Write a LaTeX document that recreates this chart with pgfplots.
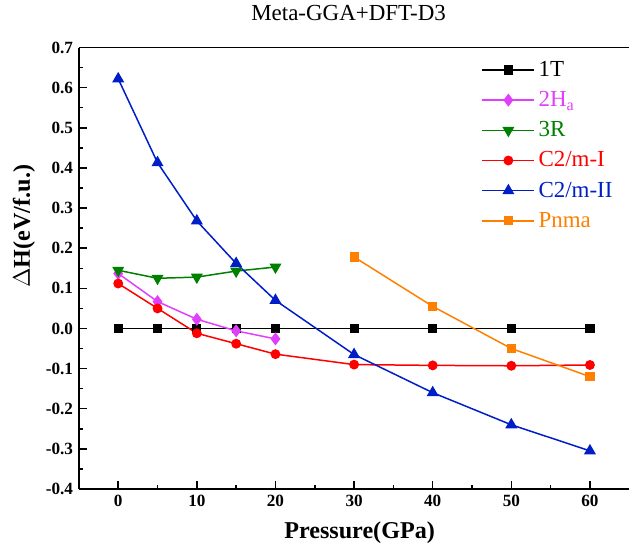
\documentclass[border=0pt]{standalone}
\usepackage{pgfplots}
\pgfplotsset{compat=1.18}
\usepackage{fontspec}
\setmainfont{Liberation Serif}
\definecolor{cT}{RGB}{0,0,0}
\definecolor{cH}{RGB}{224,64,251}
\definecolor{cR}{RGB}{0,128,0}
\definecolor{cI}{RGB}{255,0,0}
\definecolor{cII}{RGB}{0,30,200}
\definecolor{cP}{RGB}{255,128,0}
\begin{document}
\begin{tikzpicture}
\path (-47.4pt,-37.2pt) rectangle (330.6pt,293.4pt);
\begin{axis}[
  scale only axis,
  width=330.6pt, height=265.2pt,
  xmin=-5, xmax=65, ymin=-0.4, ymax=0.7,
  axis x line*=bottom, axis y line*=left,
  axis line style={line width=0.9pt, -},
  xtick={0,10,...,60}, ytick={-0.4,-0.3,...,0.7},
  minor x tick num=1, minor y tick num=1,
  tick align=inside,
  major tick length=4.8pt, minor tick length=2.4pt,
  tick style={line width=0.9pt, black},
  /pgf/number format/assume math mode=true,
  ticklabel style={font=\fontsize{10.3}{12}\selectfont\bfseries},
  yticklabel style={/pgf/number format/.cd, fixed, fixed zerofill, precision=1},
  xlabel={Pressure(GPa)},
  ylabel={$\Delta$H(eV/f.u.)},
  xlabel style={font=\fontsize{14.5}{16}\selectfont\bfseries, at={(axis description cs:0.51,-0.098)}, anchor=center},
  ylabel style={font=\fontsize{14.5}{16}\selectfont\bfseries, at={(axis description cs:-0.1,0.595)}, anchor=center},
  title={Meta-GGA+DFT-D3},
  title style={font=\fontsize{13.8}{15}\selectfont, at={(axis description cs:0.49,1.055)}, anchor=center, yshift=0pt},
  legend style={draw=none, fill=none, at={(axis description cs:0.722,0.985)}, anchor=north west,
    font=\fontsize{13.8}{16}\selectfont, row sep=3.5pt, legend cell align=left,
    nodes={inner xsep=2pt}},
  every axis plot/.append style={line width=0.9pt},
  legend image code/.code={\draw[mark repeat=2,mark phase=2] plot coordinates {(0cm,0cm) (0.55cm,0cm) (1.1cm,0cm)};},
]
\addplot[cT, mark=square*, mark size=2.3pt] coordinates {(0,0) (5,0) (10,0) (15,0) (20,0) (30,0) (40,0) (50,0) (60,0)};
\addlegendentry{1T}
\addplot[cH, mark=diamond*, mark size=3.2pt] coordinates {(0,0.137) (5,0.067) (10,0.023) (15,-0.006) (20,-0.026)};
\addlegendentry{\textcolor{cH}{2H$_{\mathrm{a}}$}}
\addplot[cR, mark=triangle*, mark options={rotate=180}, mark size=3.3pt] coordinates {(0,0.145) (5,0.125) (10,0.128) (15,0.143) (20,0.153)};
\addlegendentry{\textcolor{cR}{3R}}
\addplot[cI, mark=*, mark size=2.5pt] coordinates {(0,0.112) (5,0.05) (10,-0.012) (15,-0.038) (20,-0.064) (30,-0.09) (40,-0.092) (50,-0.093) (60,-0.091)};
\addlegendentry{\textcolor{cI}{C2/m-I}}
\addplot[cII, mark=triangle*, mark size=3.3pt] coordinates {(0,0.622) (5,0.413) (10,0.268) (15,0.162) (20,0.07) (30,-0.065) (40,-0.16) (50,-0.24) (60,-0.305)};
\addlegendentry{\textcolor{cII}{C2/m-II}}
\addplot[cP, mark=square*, mark size=2.3pt] coordinates {(30,0.178) (40,0.055) (50,-0.05) (60,-0.12)};
\addlegendentry{\textcolor{cP}{Pnma}}
\draw[line width=0.9pt] (rel axis cs:0,1) -- (rel axis cs:1,1);
\end{axis}
\end{tikzpicture}
\end{document}
